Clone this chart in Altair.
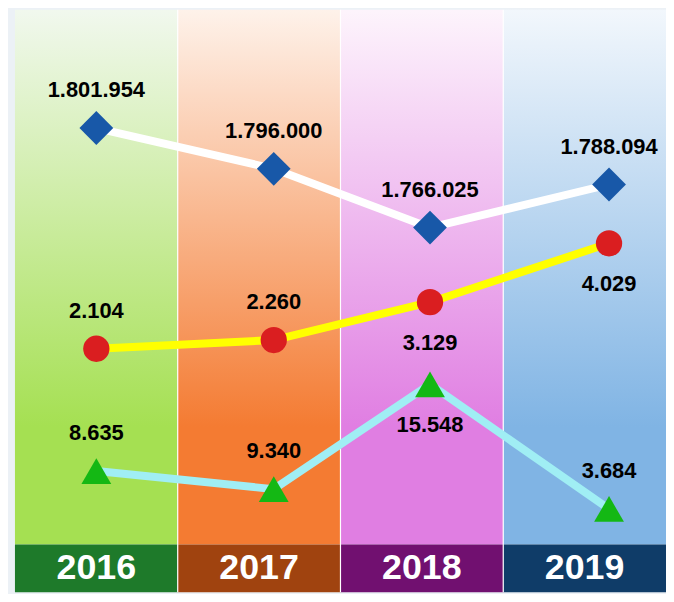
import altair as alt
import pandas as pd

# ---- data ----
years = ["2016", "2017", "2018", "2019"]
slot = [0.5, 1.59, 2.55, 3.65]          # horizontal slot of the markers inside each year band

series_a_values = [1801954, 1796000, 1766025, 1788094]
series_a_level = [79.7, 72.7, 62.6, 70.0]
series_a_side = ["above", "above", "above", "above"]

series_b_values = [2104, 2260, 3129, 4029]
series_b_level = [41.8, 43.3, 49.8, 59.9]
series_b_side = ["above", "above", "below", "below"]

series_c_values = [8635, 9340, 15548, 3684]
series_c_level = [20.8, 17.7, 35.7, 14.3]
series_c_side = ["above", "above", "below", "above"]

# ---- styles ----
band_top = ["#f1f8ee", "#fef2ea", "#fdf4fc", "#f2f7fc"]
band_solid = ["#a5e052", "#f47b32", "#e07ee2", "#80b4e4"]
header_col = ["#1e7a2a", "#a0430f", "#711070", "#0f3c68"]
series_style = {
    "a": dict(line="#ffffff", point="#1858a8", shape="diamond", size=1156),
    "b": dict(line="#ffff00", point="#da1e20", shape="circle", size=700),
    "c": dict(line="#a0eef4", point="#14b814", shape="triangle-up", size=900),
}
HEADER = 8.2
FONT = "Liberation Sans"


def fmt(v):
    return f"{v:,}".replace(",", ".")


rows = []
for key, vals, lev, side in [
    ("a", series_a_values, series_a_level, series_a_side),
    ("b", series_b_values, series_b_level, series_b_side),
    ("c", series_c_values, series_c_level, series_c_side),
]:
    for i in range(4):
        rows.append(dict(series=key, year=years[i], slot=slot[i], level=lev[i],
                         label=fmt(vals[i]), side=side[i]))
pts = pd.DataFrame(rows)
cols = pd.DataFrame({"year": years, "c0": [0, 1, 2, 3]})

xs = alt.Scale(domain=[0, 4], nice=False, zero=False)
ys = alt.Scale(domain=[0, 100], nice=False, zero=False)

layers = []
base_cols = alt.Chart(cols).transform_calculate(
    c1="datum.c0 + 1", cm="datum.c0 + 0.5", top="100", hb=str(HEADER), zero="0", hm=str(HEADER / 2)
)
for i, yr in enumerate(years):
    g = alt.Gradient(
        gradient="linear", x1=0, x2=0, y1=0, y2=1,
        stops=[alt.GradientStop(color=band_top[i], offset=0),
               alt.GradientStop(color=band_solid[i], offset=0.78),
               alt.GradientStop(color=band_solid[i], offset=1)],
    )
    layers.append(
        base_cols.transform_filter(alt.datum.year == yr).mark_rect(color=g).encode(
            x=alt.X("c0:Q", scale=xs, axis=None), x2="c1:Q",
            y=alt.Y("top:Q", scale=ys, axis=None), y2="hb:Q")
    )
    layers.append(
        base_cols.transform_filter(alt.datum.year == yr).mark_rect(color=header_col[i]).encode(
            x=alt.X("c0:Q", scale=xs, axis=None), x2="c1:Q",
            y=alt.Y("hb:Q", scale=ys, axis=None), y2="zero:Q")
    )

layers.append(
    base_cols.transform_filter(alt.datum.c0 > 0).mark_rule(color="white", strokeWidth=1.2).encode(
        x=alt.X("c0:Q", scale=xs, axis=None),
        y=alt.Y("top:Q", scale=ys, axis=None), y2="zero:Q")
)
layers.append(
    base_cols.mark_text(font=FONT, fontWeight="bold", fontSize=36, color="white",
                        baseline="middle", align="center").encode(
        x=alt.X("cm:Q", scale=xs, axis=None),
        y=alt.Y("hm:Q", scale=ys, axis=None), text="year:N")
)

for key, st in series_style.items():
    layers.append(
        alt.Chart(pts).transform_filter(alt.datum.series == key).mark_line(
            color=st["line"], strokeWidth=8).encode(
            x=alt.X("slot:Q", scale=xs, axis=None),
            y=alt.Y("level:Q", scale=ys, axis=None))
    )
for key, st in series_style.items():
    layers.append(
        alt.Chart(pts).transform_filter(alt.datum.series == key).mark_point(
            shape=st["shape"], size=st["size"], filled=True, opacity=1,
            color=st["point"], strokeWidth=0).encode(
            x=alt.X("slot:Q", scale=xs, axis=None),
            y=alt.Y("level:Q", scale=ys, axis=None))
    )

for side, dy in [("above", -38), ("below", 41)]:
    layers.append(
        alt.Chart(pts).transform_filter(alt.datum.side == side).mark_text(
            font=FONT, fontWeight="bold", fontSize=22, color="black",
            baseline="middle", align="center", dy=dy).encode(
            x=alt.X("slot:Q", scale=xs, axis=None),
            y=alt.Y("level:Q", scale=ys, axis=None), text="label:N")
    )

chart = alt.layer(*layers).properties(
    width=655, height=586,
    autosize=alt.AutoSizeParams(type="none"),
    padding={"left": 7, "top": 0, "right": 0, "bottom": 0},
    background="#ecf1f6",
).configure_view(stroke=None)

chart.save("out.html", embed_options={"renderer": "svg", "actions": False})
